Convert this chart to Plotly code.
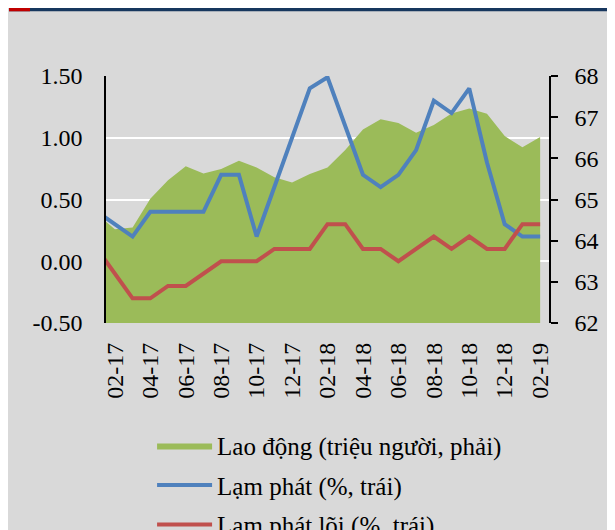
import plotly.graph_objects as go

# thang (01-17 nam ngoai khung ben trai, chi thay doan noi vao)
months = ['01-17', '02-17', '03-17', '04-17', '05-17', '06-17', '07-17', '08-17', '09-17',
          '10-17', '11-17', '12-17', '01-18', '02-18', '03-18', '04-18', '05-18', '06-18',
          '07-18', '08-18', '09-18', '10-18', '11-18', '12-18', '01-19', '02-19']

lao_dong = [64.64, 64.28, 64.32, 65.02, 65.47, 65.81, 65.63, 65.74, 65.94, 65.78,
            65.54, 65.41, 65.62, 65.78, 66.2, 66.7, 66.95, 66.86, 66.62, 66.81,
            67.09, 67.21, 67.08, 66.54, 66.27, 66.52]

lam_phat = [0.4, 0.3, 0.2, 0.4, 0.4, 0.4, 0.4, 0.7, 0.7, 0.2,
            0.6, 1.0, 1.4, 1.49, 1.1, 0.7, 0.6, 0.7, 0.9, 1.3,
            1.2, 1.4, 0.8, 0.3, 0.2, 0.2]

lam_phat_loi = [0.1, -0.1, -0.3, -0.3, -0.2, -0.2, -0.1, 0.0, 0.0, 0.0,
                0.1, 0.1, 0.1, 0.3, 0.3, 0.1, 0.1, 0.0, 0.1, 0.2,
                0.1, 0.2, 0.1, 0.1, 0.3, 0.3]

left_ticks = [-0.5, 0.0, 0.5, 1.0, 1.5]
left_labels = ['-0.50', '0.00', '0.50', '1.00', '1.50']
x_labels = months[1::2]
x_boundaries = [i + 0.5 for i in range(0, 25, 2)]

FONT = 'Liberation Serif'
BG = '#d9d9d9'

fig = go.Figure()

fig.add_trace(go.Scatter(x=months, y=lao_dong, name='Lao động (triệu người, phải)',
                         mode='lines', fill='tozeroy', fillcolor='#9bbb59',
                         line=dict(width=0, color='#9bbb59'),
                         xaxis='x', yaxis='y', legendgroup='a'))

fig.add_trace(go.Scatter(x=months, y=lam_phat, name='Lạm phát (%, trái)',
                         mode='lines', line=dict(width=4, color='#4f81bd'),
                         xaxis='x', yaxis='y2', legendgroup='b'))

fig.add_trace(go.Scatter(x=months, y=lam_phat_loi, name='Lạm phát lõi (%, trái)',
                         mode='lines', line=dict(width=4, color='#c0504d'),
                         xaxis='x', yaxis='y2', legendgroup='c'))

# trang co le 8px cua body, nen hinh bat dau tu (8, 8); phan duoi chu thich bi cat nhu ban goc
fig.update_layout(
    width=607, height=560,
    margin=dict(l=98, r=66, t=68, b=245),
    paper_bgcolor=BG, plot_bgcolor=BG,
    font=dict(family=FONT, size=24, color='#000000'),
    showlegend=True,
    legend=dict(x=0.104, y=-0.404, xanchor='left', yanchor='top',
                bgcolor='rgba(0,0,0,0)', font=dict(size=25),
                traceorder='grouped', tracegroupgap=4, itemwidth=55),
    xaxis=dict(type='category', categoryorder='array', categoryarray=months,
               range=[0.5, 25.5], tickmode='array', tickvals=x_labels,
               tickangle=-90, showgrid=False, showline=False, zeroline=False,
               ticks='', ticklabelstandoff=14),
    xaxis2=dict(overlaying='x', anchor='free', position=0.25, range=[0.5, 25.5],
                tickmode='array', tickvals=x_boundaries, showticklabels=False,
                ticks='outside', ticklen=7, tickwidth=2, tickcolor='#000000',
                showline=True, linecolor='#000000', linewidth=2,
                showgrid=False, zeroline=False),
    yaxis=dict(side='right', range=[62, 68], dtick=1, showgrid=False, zeroline=False,
               showline=True, linecolor='#000000', linewidth=1.5,
               ticks='outside', ticklen=7, tickwidth=1.5, tickcolor='#000000',
               ticklabelstandoff=12),
    yaxis2=dict(side='left', overlaying='y', range=[-0.5, 1.5], tickmode='array',
                tickvals=left_ticks, ticktext=left_labels,
                showgrid=True, gridcolor='#ffffff', gridwidth=2, zeroline=False,
                showline=True, linecolor='#000000', linewidth=1.5,
                ticks='', ticklabelstandoff=17),
    shapes=[
        dict(type='rect', xref='paper', yref='paper', x0=-0.219, x1=1.2, y0=1.262, y1=1.4,
             fillcolor='#17375e', line=dict(width=0)),
        dict(type='rect', xref='paper', yref='paper', x0=-0.219, x1=-0.1716, y0=1.262, y1=1.4,
             fillcolor='#c00000', line=dict(width=0)),
    ],
)

fig.write_html('out.html')
